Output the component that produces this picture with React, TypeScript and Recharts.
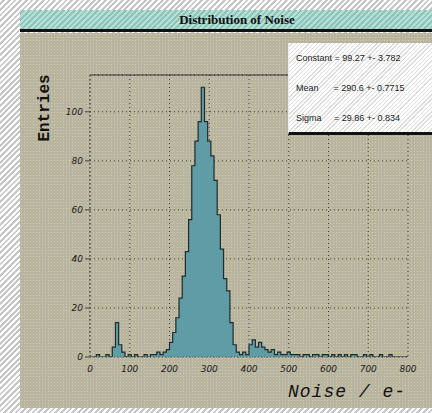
import { Area, AreaChart, CartesianGrid, ReferenceLine, XAxis, YAxis } from 'recharts';

// Histogram of noise, 8 e- wide bins from 0 to 800
const BIN_WIDTH = 8;
const counts = [
  0, 0, 1, 0, 0, 1, 0, 4, 14, 5,
  2, 0, 1, 0, 1, 0, 0, 1, 0, 1,
  1, 2, 1, 2, 3, 6, 10, 16, 24, 33,
  43, 56, 78, 88, 96, 110, 96, 88, 82, 72,
  58, 44, 32, 27, 14, 5, 2, 1, 2, 1,
  5, 7, 4, 6, 4, 3, 2, 3, 1, 2,
  1, 1, 2, 1, 1, 1, 0, 1, 1, 0,
  1, 1, 0, 1, 1, 0, 1, 0, 1, 0,
  1, 0, 1, 1, 0, 0, 1, 0, 1, 0,
  0, 1, 0, 0, 1, 0, 0, 0, 0, 0,
];
const xTicks = [0, 100, 200, 300, 400, 500, 600, 700, 800];
const yTicks = [0, 20, 40, 60, 80, 100];
const fitLines = [
  'Constant = 99.27 +- 3.782',
  'Mean      = 290.6 +- 0.7715',
  'Sigma     = 29.86 +- 0.834',
];

const data = [...counts, 0].map((n, i) => ({ x: i * BIN_WIDTH, n }));

const hatch = 'repeating-linear-gradient(135deg, #ffffff 0px, #ffffff 2px, #c6c6c6 2px, #c6c6c6 4px)';
const tickStyle = { fontSize: 9, fontStyle: 'italic', fontFamily: 'DejaVu Sans', fill: '#1a1a1a' } as const;

export default function App() {
  return (
    <div
      style={{
        position: 'absolute',
        left: 0,
        top: 0,
        width: 432,
        height: 413,
        overflow: 'hidden',
        background: hatch,
      }}
    >
      {/* tan plot pad */}
      <div
        style={{
          position: 'absolute',
          left: 20,
          top: 33,
          width: 440,
          height: 375,
          backgroundColor: '#b8b4a2',
          backgroundImage: 'radial-gradient(#d8cc98 0.8px, transparent 1px)',
          backgroundSize: '3px 3px',
        }}
      />

      <div style={{ position: 'absolute', left: 0, top: 0 }}>
        <AreaChart width={432} height={413} data={data} margin={{ top: 75, right: 24, bottom: 26, left: 58 }}>
          <CartesianGrid stroke="#3a3a3a" strokeDasharray="1 3" />
          <ReferenceLine y={115} stroke="#333" strokeWidth={1} />
          <XAxis
            dataKey="x"
            type="number"
            domain={[0, 800]}
            ticks={xTicks}
            interval={0}
            tick={tickStyle}
            tickLine={false}
            axisLine={{ stroke: '#555', strokeDasharray: '1 2' }}
            tickMargin={3}
            height={30}
          />
          <YAxis
            domain={[0, 115]}
            ticks={yTicks}
            interval={0}
            tick={tickStyle}
            tickLine={{ stroke: '#444' }}
            tickSize={5}
            axisLine={{ stroke: '#555', strokeDasharray: '2 2' }}
            width={32}
            allowDataOverflow
          />
          <Area
            type="stepAfter"
            dataKey="n"
            stroke="#1f2c2c"
            strokeWidth={1.2}
            fill="#5f9ca6"
            fillOpacity={1}
            dot={false}
            activeDot={false}
            isAnimationActive={false}
          />
        </AreaChart>
      </div>

      {/* title bar */}
      <div
        style={{
          position: 'absolute',
          left: 20,
          top: 10,
          width: 434,
          height: 19,
          background: 'repeating-linear-gradient(135deg, #b4e0d8 0px, #b4e0d8 2px, #8ec4bc 2px, #8ec4bc 4px)',
          borderBottom: '3px solid #111',
          textAlign: 'center',
          fontFamily: 'Liberation Serif',
          fontWeight: 'bold',
          fontSize: 13,
          lineHeight: '19px',
          color: '#111',
        }}
      >
        Distribution of Noise
      </div>

      {/* fit box */}
      <div
        style={{
          position: 'absolute',
          left: 288,
          top: 43,
          width: 150,
          height: 89,
          background: 'repeating-linear-gradient(135deg, #ffffff 0px, #ffffff 2px, #dcdcdc 2px, #dcdcdc 3px)',
          borderBottom: '3px solid #111',
          borderLeft: '1px solid #eee',
          fontFamily: 'Liberation Sans',
          fontSize: 9,
          color: '#222',
          whiteSpace: 'pre',
        }}
      >
        {fitLines.map((t, i) => (
          <div key={i} style={{ position: 'absolute', left: 7, top: 10 + i * 30 }}>
            {t}
          </div>
        ))}
      </div>

      {/* axis titles */}
      <div
        style={{
          position: 'absolute',
          left: 45,
          top: 108,
          transform: 'translate(-50%, -50%) rotate(-90deg)',
          fontFamily: 'Liberation Mono',
          fontWeight: 'bold',
          fontSize: 16,
          color: '#111',
          whiteSpace: 'nowrap',
        }}
      >
        Entries
      </div>
      <div
        style={{
          position: 'absolute',
          left: 288,
          top: 382,
          fontFamily: 'Liberation Mono',
          fontStyle: 'italic',
          fontSize: 18,
          letterSpacing: 1,
          color: '#111',
          whiteSpace: 'nowrap',
        }}
      >
        Noise / e-
      </div>
    </div>
  );
}
